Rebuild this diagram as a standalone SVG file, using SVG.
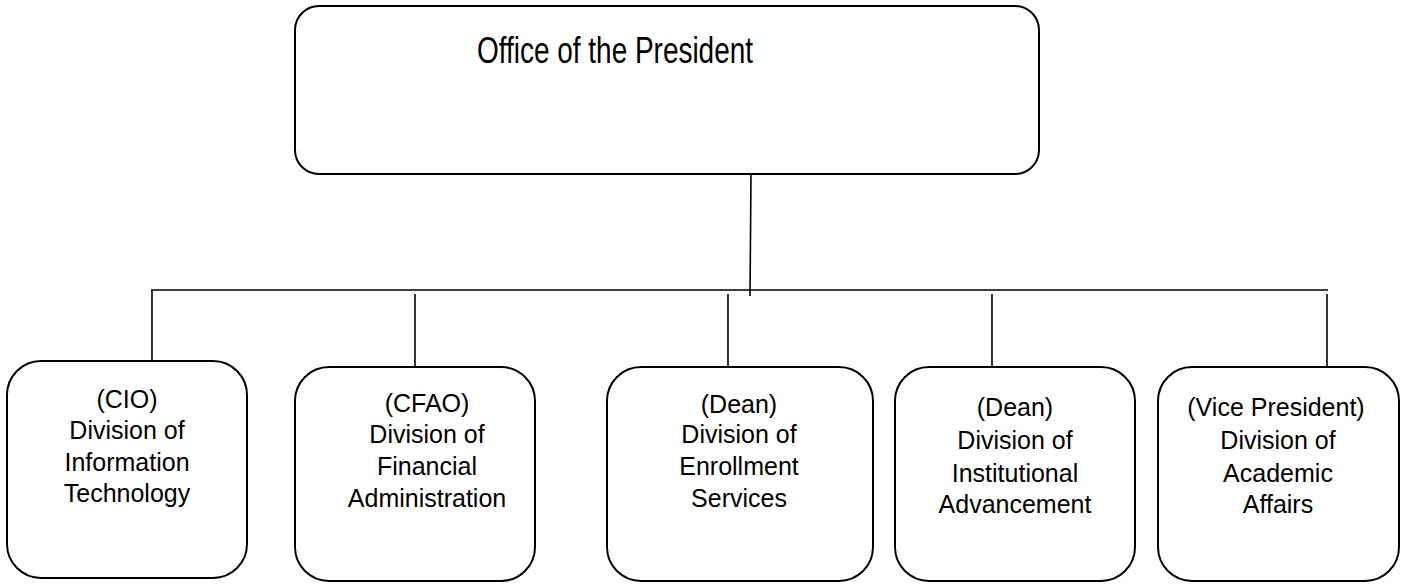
<svg xmlns="http://www.w3.org/2000/svg" width="1401" height="584" viewBox="0 0 1401 584">
<style>
.box{fill:#fff;stroke:#000;stroke-width:2}
.ln{stroke:#000;stroke-width:1.6;fill:none}
.t{font-family:"Liberation Sans",Arial,sans-serif;font-size:25px;fill:#000;text-anchor:middle}
.title{font-family:"Liberation Sans",Arial,sans-serif;font-size:36px;fill:#000;text-anchor:middle}
</style>
<rect width="1401" height="584" fill="#fff"/>
<g id="connectors">
<line class="ln" x1="751" y1="174" x2="750" y2="296"/>
<line class="ln" x1="151" y1="290" x2="1328" y2="290"/>
<line class="ln" x1="152" y1="290" x2="152" y2="361"/>
<line class="ln" x1="415" y1="294" x2="415" y2="367"/>
<line class="ln" x1="728" y1="294" x2="728" y2="367"/>
<line class="ln" x1="992" y1="294" x2="992" y2="367"/>
<line class="ln" x1="1327" y1="294" x2="1327" y2="367"/>
</g>
<g id="president">
<rect class="box" x="295" y="6" width="744" height="168" rx="24"/>
<text class="title" x="615" y="63" textLength="276" lengthAdjust="spacingAndGlyphs">Office of the President</text>
</g>
<g id="cio">
<rect class="box" x="7" y="361" width="240" height="217" rx="34"/>
<text class="t" x="127" y="408">(CIO)</text>
<text class="t" x="127" y="439">Division of</text>
<text class="t" x="127" y="471">Information</text>
<text class="t" x="127" y="502">Technology</text>
</g>
<g id="cfao">
<rect class="box" x="295" y="367" width="240" height="214" rx="34"/>
<text class="t" x="427" y="412">(CFAO)</text>
<text class="t" x="427" y="443">Division of</text>
<text class="t" x="427" y="475">Financial</text>
<text class="t" x="427" y="507">Administration</text>
</g>
<g id="enrollment">
<rect class="box" x="607" y="367" width="266" height="214" rx="34"/>
<text class="t" x="739" y="413">(Dean)</text>
<text class="t" x="739" y="443">Division of</text>
<text class="t" x="739" y="475">Enrollment</text>
<text class="t" x="739" y="507">Services</text>
</g>
<g id="advancement">
<rect class="box" x="895" y="367" width="240" height="214" rx="34"/>
<text class="t" x="1015" y="416">(Dean)</text>
<text class="t" x="1015" y="449">Division of</text>
<text class="t" x="1015" y="482">Institutional</text>
<text class="t" x="1015" y="513">Advancement</text>
</g>
<g id="academic">
<rect class="box" x="1158" y="367" width="241" height="214" rx="34"/>
<text class="t" x="1276" y="416">(Vice President)</text>
<text class="t" x="1278" y="449">Division of</text>
<text class="t" x="1278" y="482">Academic</text>
<text class="t" x="1278" y="513">Affairs</text>
</g>
</svg>
